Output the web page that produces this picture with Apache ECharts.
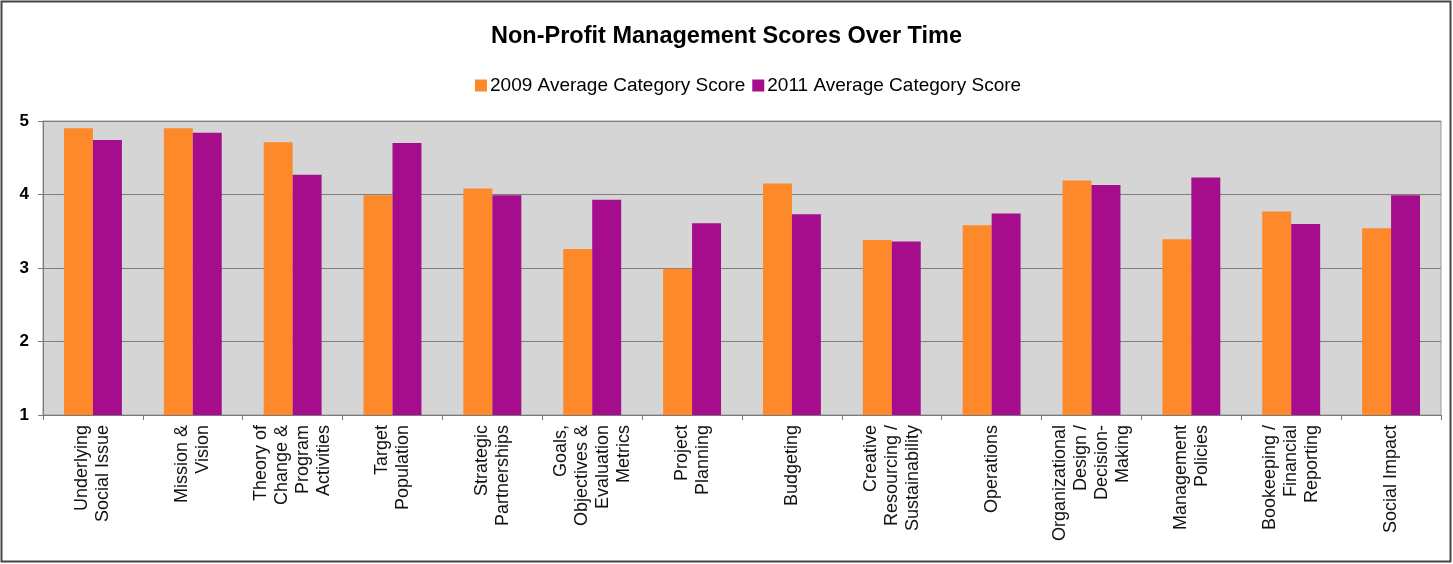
<!DOCTYPE html>
<html><head><meta charset="utf-8">
<script src="https://cdn.jsdelivr.net/npm/echarts@6/dist/echarts.min.js"></script>
<style>html,body{margin:0;padding:0;background:#fff}#c{width:1453px;height:564px}</style>
</head><body><div id="c"></div>
<script>
const categories = [
  "Underlying\nSocial Issue",
  "Mission &\nVision",
  "Theory of\nChange &\nProgram\nActivities",
  "Target\nPopulation",
  "Strategic\nPartnerships",
  "Goals,\nObjectives &\nEvaluation\nMetrics",
  "Project\nPlanning",
  "Budgeting",
  "Creative\nResourcing /\nSustainability",
  "Operations",
  "Organizational\nDesign /\nDecision-\nMaking",
  "Management\nPolicies",
  "Bookeeping /\nFinancial\nReporting",
  "Social Impact"
];
const scores2009 = [4.90, 4.90, 4.71, 3.99, 4.08, 3.26, 2.99, 4.15, 3.38, 3.58, 4.19, 3.39, 3.77, 3.54];
const scores2011 = [4.74, 4.84, 4.27, 4.70, 3.99, 3.93, 3.61, 3.73, 3.36, 3.74, 4.13, 4.23, 3.60, 3.99];
const yTicks = [1, 2, 3, 4, 5];
const seriesNames = ["2009 Average Category Score", "2011 Average Category Score"];

const chart = echarts.init(document.getElementById('c'), null, {renderer: 'canvas'});
chart.setOption({
  animation: false,
  textStyle: {fontFamily: 'Liberation Sans, Arial, sans-serif'},
  title: {
    text: 'Non-Profit Management Scores Over Time',
    left: 'center', top: 20,
    textStyle: {fontSize: 23.5, fontWeight: 'bold', color: '#000', fontFamily: 'Liberation Sans, Arial, sans-serif'}
  },
  legend: {
    data: seriesNames,
    top: 71, left: 470,
    itemWidth: 12, itemHeight: 12, itemGap: 7,
    icon: 'rect',
    textStyle: {fontSize: 19, color: '#000', padding: [0, 0, 0, -2]}
  },
  graphic: [{
    type: 'rect', shape: {x: 1.5, y: 1.5, width: 1449, height: 560},
    style: {fill: 'none', stroke: '#444', lineWidth: 2}, silent: true
  }],
  grid: {
    left: 43, right: 12, top: 121, bottom: 149,
    show: true, backgroundColor: '#d5d5d5', borderColor: '#9a9a9a', borderWidth: 1
  },
  xAxis: {
    type: 'category', data: categories,
    axisLine: {lineStyle: {color: '#7a7a7a', width: 1}},
    axisTick: {show: true, length: 5, lineStyle: {color: '#7a7a7a'}},
    axisLabel: {rotate: 90, interval: 0, margin: 10, fontSize: 18, lineHeight: 21, color: '#111'}
  },
  yAxis: {
    type: 'value', min: yTicks[0], max: yTicks[yTicks.length - 1], interval: 1,
    axisLine: {show: true, lineStyle: {color: '#7a7a7a'}},
    axisTick: {show: true, length: 5, lineStyle: {color: '#7a7a7a'}},
    axisLabel: {fontSize: 17, fontWeight: 'bold', color: '#000', margin: 14},
    splitLine: {lineStyle: {color: '#7f7f7f', width: 1}}
  },
  series: [
    {name: seriesNames[0], type: 'bar', data: scores2009, barGap: '0%', barCategoryGap: '42%',
     itemStyle: {color: '#fd892a'}},
    {name: seriesNames[1], type: 'bar', data: scores2011, barGap: '0%', barCategoryGap: '42%',
     itemStyle: {color: '#a50d8c'}}
  ]
});
</script></body></html>
